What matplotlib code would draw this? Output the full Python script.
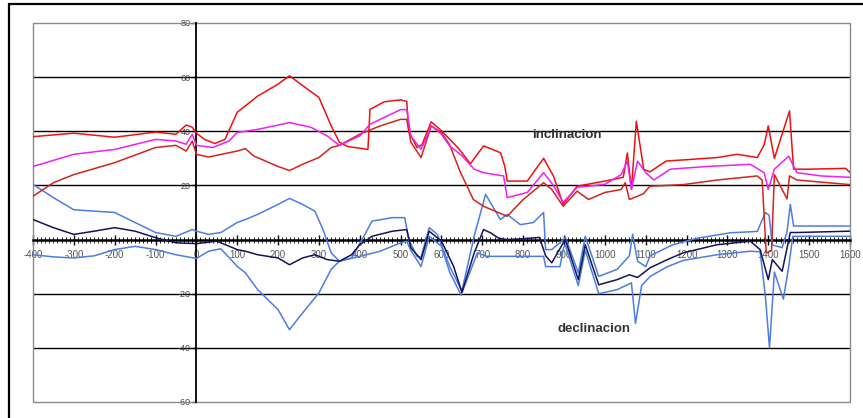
"""
Paleomagnetic curve: inclination and declination with error bounds.
"""

import matplotlib
matplotlib.use("Agg")
import matplotlib.pyplot as plt
from matplotlib.patches import Rectangle
from matplotlib.ticker import MultipleLocator

plt.rcParams["font.family"] = ["Liberation Sans", "DejaVu Sans"]

# ---- data (year, degrees) ----

incl_hi_x = [-400, -300, -200, -100, -50, -25, -10, 0, 20, 45, 70, 100, 120, 150,
             200, 228, 250, 300, 330, 350, 370, 420, 425, 460, 500, 515, 520, 540,
             552, 575, 600, 640, 671, 703, 730, 745, 755, 761, 810, 850, 874,
             898, 932, 1000, 1045, 1055, 1065, 1077, 1095, 1110, 1150, 1200,
             1275, 1324, 1373, 1390, 1400, 1415, 1452, 1462, 1500, 1589, 1600]
incl_hi_y = [38, 39.3, 37.8, 39.7, 38.9, 42.3, 41.5, 39.3, 37, 35.5, 37, 47, 49.4, 53,
             57.4, 60.5, 58, 52.5, 42, 36, 34.4, 33.3, 48.1, 50.9, 51.6, 51, 40, 34,
             35, 43.5, 40.2, 34, 28, 34.6, 33, 32, 27, 21.6, 21.6, 30, 23.5,
             13, 19.7, 21.6, 23, 32, 18.5, 43.7, 26, 25, 29, 29.5,
             30.3, 31.5, 30.3, 35, 42, 30, 47.5, 26, 26, 26.3, 24.8]

incl_mid_x = [-400, -300, -200, -100, -50, -25, -10, 0, 40, 80, 100, 120, 150, 228,
              280, 320, 350, 400, 425, 500, 515, 525, 550, 575, 600, 620, 650, 680,
              703, 752, 761, 810, 850, 874, 898, 932, 1000, 1040, 1055,
              1065, 1080, 1100, 1120, 1160, 1250, 1356, 1390, 1400, 1415, 1450,
              1470, 1530, 1600]
incl_mid_y = [27, 31.5, 33.3, 37, 36.4, 35.2, 38.9, 34.8, 34, 36.4, 39.6, 40, 40.7, 43.2,
              41.5, 38.3, 34.8, 38.3, 42.6, 48, 48, 38.3, 33.3, 42, 38.9, 34.6, 31, 26,
              24.7, 23.5, 15.5, 17.4, 24.7, 20, 13.7, 19.3, 20.4, 24, 29,
              18.5, 29, 24.7, 22, 26, 27, 27.8, 24.7, 18.5, 26, 30.8,
              24.7, 23.5, 23]

incl_lo_x = [-400, -350, -300, -200, -100, -50, -25, -10, 0, 30, 100, 120, 140, 200,
             228, 260, 300, 330, 350, 400, 450, 500, 515, 525, 550, 575, 600, 620,
             646, 678, 703, 761, 800, 850, 870, 898, 932, 960, 1000, 1040, 1050,
             1060, 1080, 1095, 1110, 1192, 1275, 1373, 1385, 1395, 1408, 1415,
             1446, 1452, 1470, 1600]
incl_lo_y = [16, 21, 24, 28.4, 34, 34.8, 32.7, 36.4, 31.5, 30.5, 32.7, 33.6, 30.9, 27,
             25.5, 27.8, 30.3, 34, 34.8, 38.9, 42, 44.4, 44.4, 36, 30.3, 42, 39.5, 35,
             25, 14.8, 12.3, 8.6, 14.8, 21, 18.5, 12.3, 17.9, 14.8, 17.4, 18.5, 21,
             14.8, 16, 17, 19.7, 20.3, 22, 23.5, 22, -5, -4, 24,
             15, 23.5, 22, 20.3]

decl_hi_x = [-400, -350, -300, -250, -200, -150, -100, -50, -10, 0, 30, 60, 100, 120,
             150, 200, 228, 260, 290, 310, 330, 350, 380, 410, 430, 480, 510, 520,
             540, 550, 570, 590, 620, 650, 680, 708, 744, 761, 793, 825, 850, 855,
             870, 899, 903, 935, 952, 985, 1030, 1060, 1068, 1080, 1100, 1111, 1165,
             1226, 1307, 1373, 1393, 1402, 1410, 1434, 1446, 1454, 1462, 1600]
decl_hi_y = [20.4, 15.5, 11, 10.5, 10, 6.3, 2.6, 1.2, 3.7, 3.1, 1.9, 2.6, 6.3, 7.4,
             9.3, 13, 15.2, 13, 10.5, 3.7, -4.9, -8, -6.8, 1.2, 6.8, 8.1, 8.1, 0,
             -6.2, -6.5, 4.4, 1.9, -9.9, -19, 1.2, 16.7, 7.4, 9.3, 5.5, 6.3, 10, -3.7,
             -3.7, 0, 1, -12.3, 1.2, -13.6, -11, -6, 2, -8, -10, -6, -2,
             0.5, 2.5, 3, 10, 9, -2, -3, 3, 13, 5, 5]

decl_mid_x = [-400, -350, -300, -250, -200, -150, -100, -50, 0, 50, 100, 120, 150, 200,
              228, 260, 290, 320, 350, 380, 400, 430, 480, 515, 525, 550, 570, 600,
              630, 650, 680, 703, 720, 740, 760, 800, 840, 855, 870, 899, 903, 935,
              952, 985, 1030, 1060, 1080, 1111, 1153, 1192, 1275, 1356, 1380, 1400,
              1410, 1434, 1454, 1470, 1600]
decl_mid_y = [7.4, 4.4, 1.9, 3.1, 4.4, 3.1, 0.7, -1.2, -1.5, -0.6, -3.7, -4.3, -5.6, -6.8,
              -9.3, -6.8, -5.6, -7.4, -8, -5.6, -1.9, 1.2, 3.1, 3.7, -3, -7.4, 3.1, -0.6,
              -10, -19.5, -5, 3.7, 2.5, 0.5, 0, 0.3, 0.8, -6, -8.6, -1, 0, -14.8,
              -1.9, -16.7, -14.8, -13, -14, -10.4, -7.4, -4.9, -1.9, -0.6, -3.7, -14.8,
              -7.4, -11.7, 2.6, 2.6, 3.1]

decl_lo_x = [-400, -350, -300, -250, -200, -150, -100, -50, 0, 30, 60, 100, 120, 150,
             200, 228, 250, 300, 330, 350, 400, 450, 500, 515, 525, 550, 570, 600,
             620, 648, 688, 710, 740, 800, 850, 855, 890, 899, 903, 935, 952,
             985, 1030, 1065, 1075, 1090, 1111, 1153, 1192, 1275, 1356, 1380, 1393,
             1403, 1415, 1437, 1450, 1460, 1600]
decl_lo_y = [-5.6, -6.4, -6.8, -6, -3.7, -2.5, -3.7, -5.6, -7, -4.3, -3.4, -9.9, -12.3, -18.5,
             -25.9, -33.3, -29, -19.7, -11, -8, -6.2, -4.3, -1.2, -0.6, -4, -10, 1.2, -2.5,
             -12, -20.5, -4.9, -6.2, -6.2, -6.2, -6.2, -10, -10, -3, -2, -17, -4,
             -20, -18.5, -16, -31, -17, -13.6, -10, -7.7, -5.6, -4.3, -4.5, -21,
             -40, -12, -22, -10, 1.2, 1.2]

y_ticks = [-60, -40, -20, 0, 20, 40, 60, 80]
y_tick_labels = ["-60", "-40", "-20", "", "20", "40", "60", "80"]
x_ticks = list(range(-400, 1601, 100))

# ---- figure ----

fig = plt.figure(figsize=(8.63, 4.18), dpi=100)
ax = fig.add_axes([0.0382, 0.0383, 0.9467, 0.9067])

# outer chart frame
fig.patches.append(Rectangle((9 / 863, -0.05), 1.0, 1 - 4 / 418 + 0.05,
                             transform=fig.transFigure, fill=False,
                             edgecolor="black", linewidth=1.6))

ax.set_xlim(-400, 1600)
ax.set_ylim(-60, 80)

# horizontal gridlines
for yv in y_ticks[1:-1]:
    if yv != 0:
        ax.axhline(yv, color="black", linewidth=1.0, zorder=1)

# declination
ax.plot(decl_hi_x, decl_hi_y, color="#4d7de0", linewidth=1.1, zorder=3)
ax.plot(decl_lo_x, decl_lo_y, color="#4d7de0", linewidth=1.1, zorder=3)
ax.plot(decl_mid_x, decl_mid_y, color="#14145a", linewidth=1.1, zorder=3)

# inclination
ax.plot(incl_hi_x, incl_hi_y, color="#f01010", linewidth=1.1, zorder=4)
ax.plot(incl_lo_x, incl_lo_y, color="#d3241c", linewidth=1.1, zorder=4)
ax.plot(incl_mid_x, incl_mid_y, color="#f020f0", linewidth=1.1, zorder=4)

# axes crossing at the origin
ax.spines["left"].set_position(("data", 0))
ax.spines["bottom"].set_position(("data", 0))
ax.spines["left"].set_linewidth(1.3)
ax.spines["bottom"].set_linewidth(1.8)
ax.spines["top"].set_visible(False)
ax.spines["right"].set_visible(False)
for sp in ("left", "bottom"):
    ax.spines[sp].set_zorder(2.5)

# plot-area border
ax.add_patch(Rectangle((0, 0), 1, 1, transform=ax.transAxes, fill=False,
                       edgecolor="#8a8a8a", linewidth=1.0, zorder=2, clip_on=False))

ax.set_xticks(x_ticks)
ax.set_xticklabels([str(v) for v in x_ticks])
ax.xaxis.set_minor_locator(MultipleLocator(10))
ax.tick_params(axis="x", which="major", direction="inout", length=7, width=1.0,
               labelsize=7, labelcolor="#555555", pad=4)
ax.tick_params(axis="x", which="minor", direction="inout", length=4, width=0.6)

ax.set_yticks(y_ticks)
ax.set_yticklabels(y_tick_labels)
ax.tick_params(axis="y", which="major", direction="out", length=3, width=1.0,
               labelsize=6.5, labelcolor="#444444", pad=1)

ax.text(908, 38.5, "inclinacion", ha="center", va="center", fontsize=9.5,
        fontweight="bold", color="#333333", zorder=5)
ax.text(974, -33, "declinacion", ha="center", va="center", fontsize=9.5,
        fontweight="bold", color="#333333", zorder=5)

fig.savefig("out.png", dpi=100)
plt.close(fig)
